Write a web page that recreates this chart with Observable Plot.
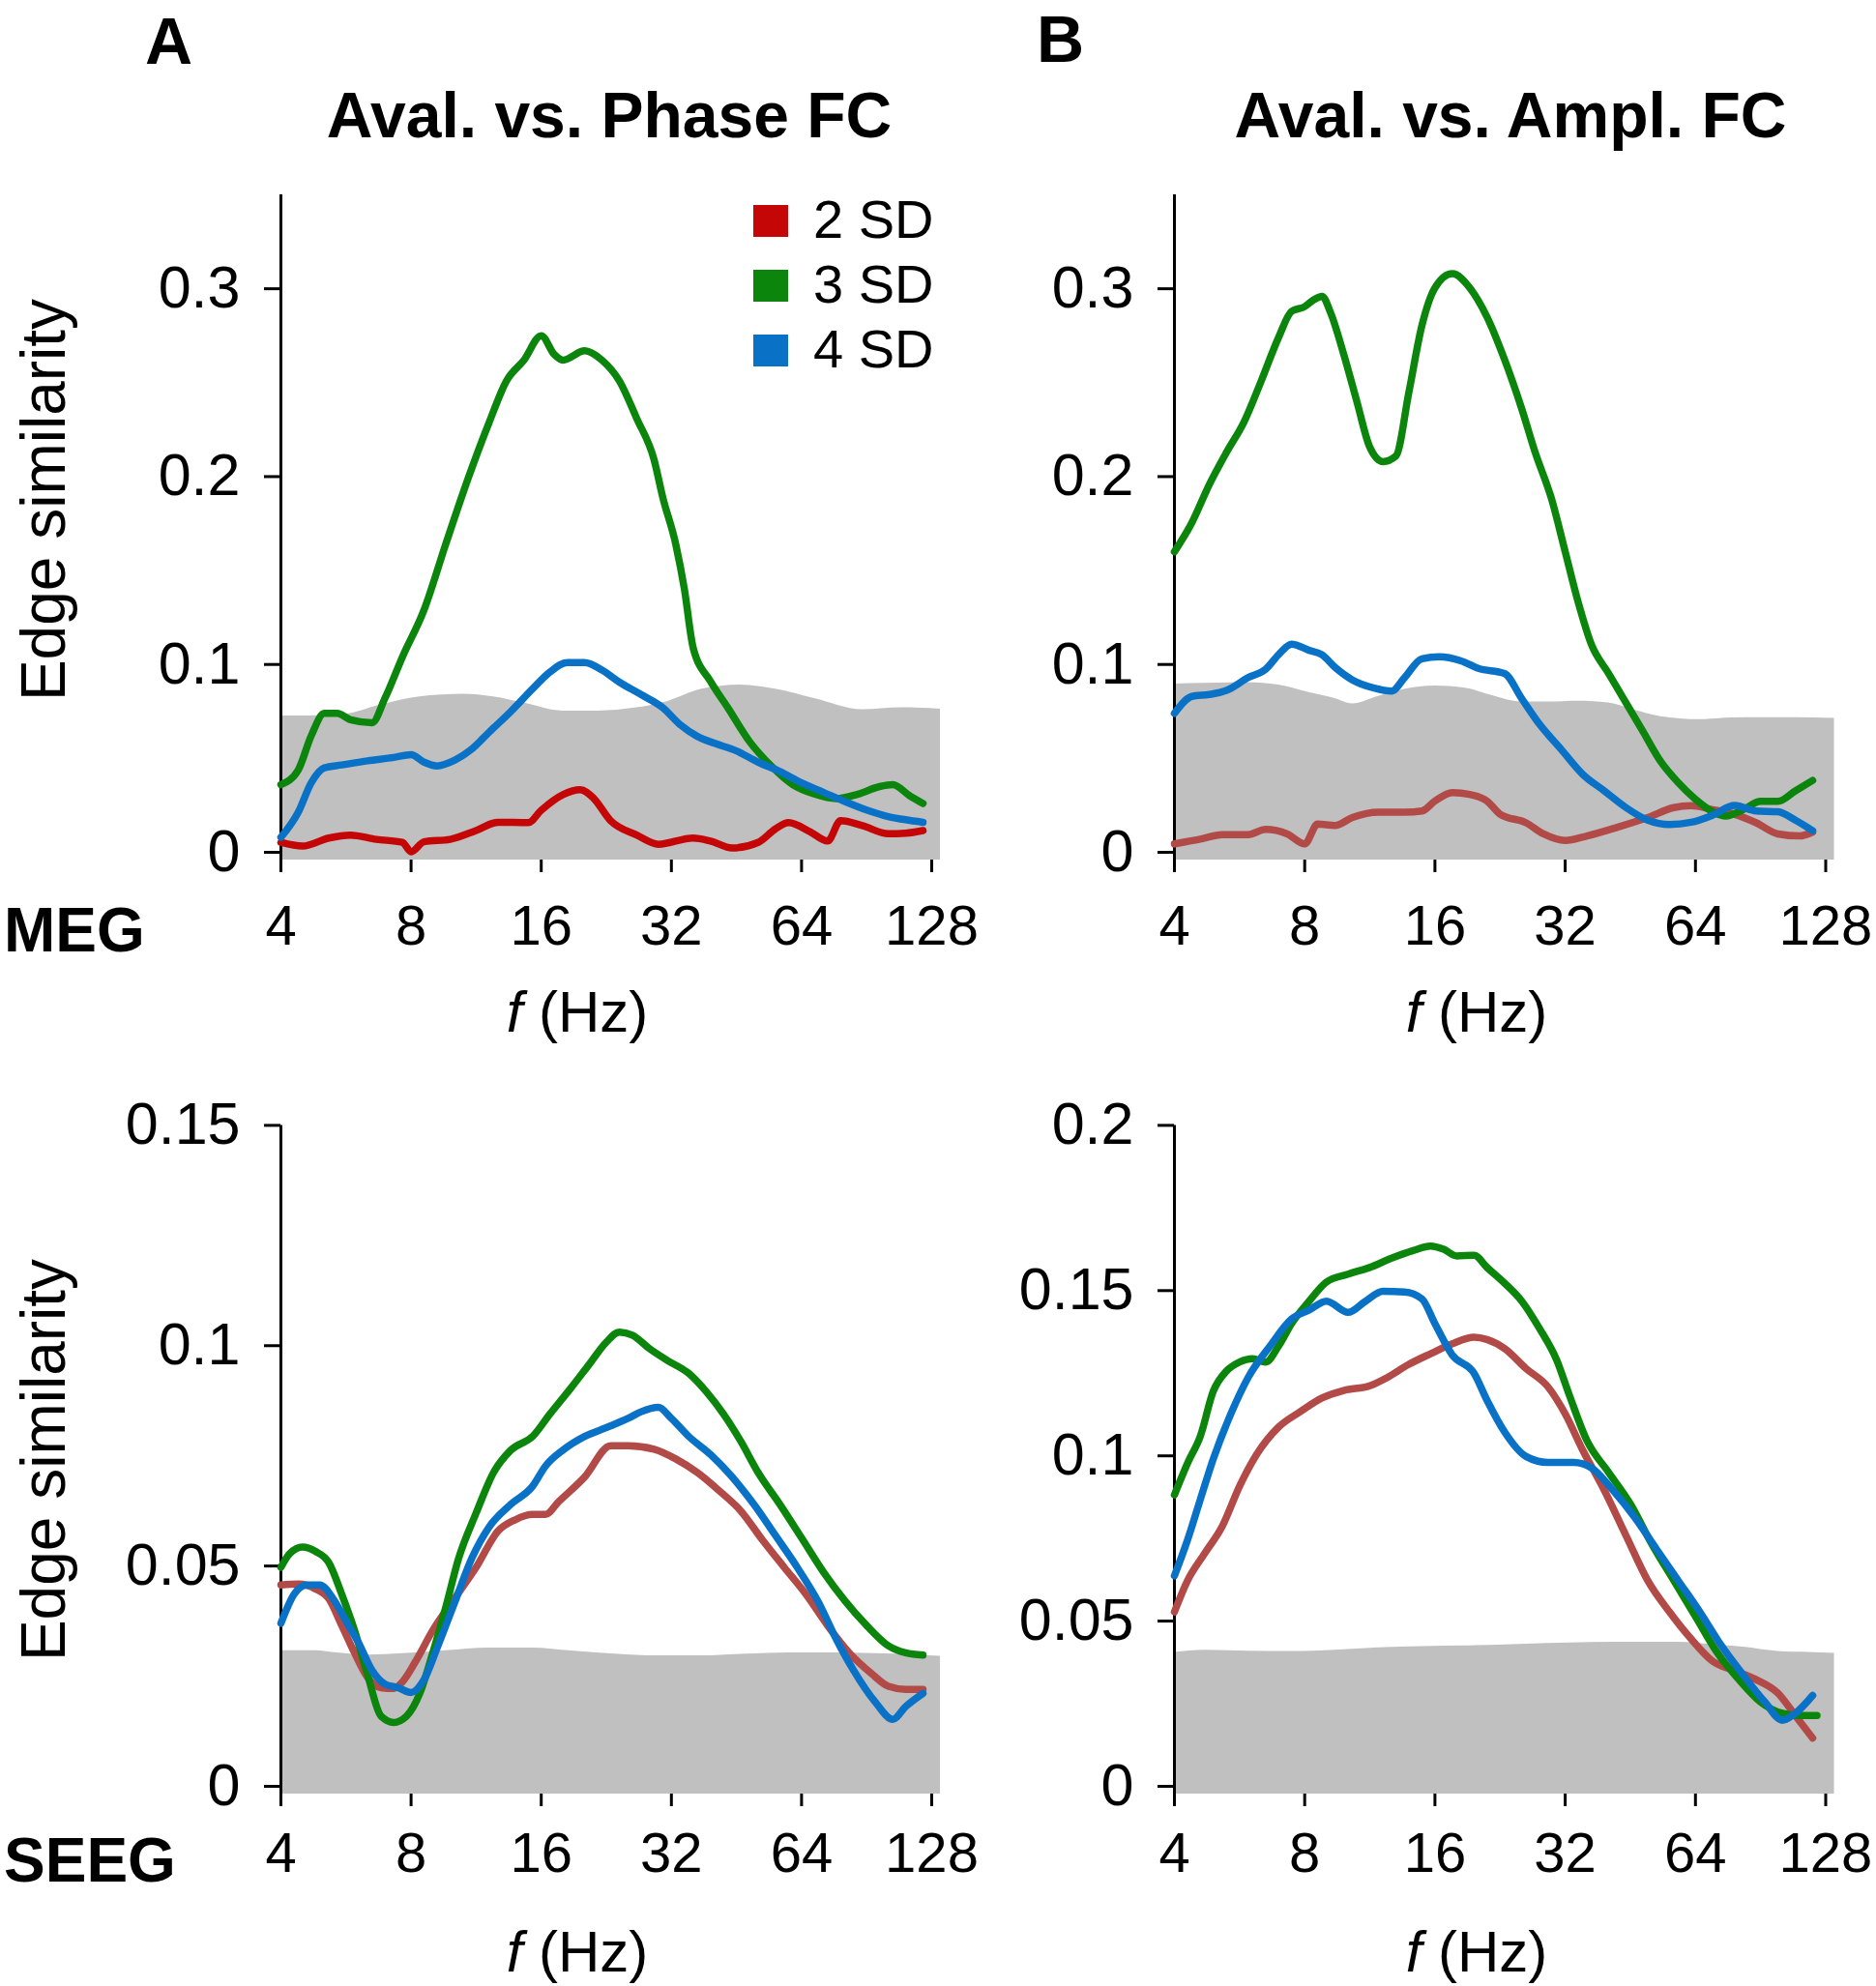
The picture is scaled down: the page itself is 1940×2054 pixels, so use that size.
<!DOCTYPE html>
<html><head><meta charset="utf-8">
<script src="https://cdn.jsdelivr.net/npm/d3@7"></script>
<script src="https://cdn.jsdelivr.net/npm/@observablehq/plot@0.6"></script>
<style>
html,body{margin:0;padding:0;background:#fff;}
#root{position:relative;width:1940px;height:2054px;overflow:hidden;background:#fff;}
</style></head><body><div id="root"></div>
<script>
// ---------- DATA: [frequency (Hz), edge similarity] ----------
const freqTicks = [4, 8, 16, 32, 64, 128];
const seriesLabels = ["2 SD", "3 SD", "4 SD"];
const panelTitles = ["Aval. vs. Phase FC", "Aval. vs. Ampl. FC"];
const panelLetters = ["A", "B"];
const rowLabels = ["MEG", "SEEG"];
const yTicksMEG = [0, 0.1, 0.2, 0.3];
const yTicksSEEGPhase = [0, 0.05, 0.1, 0.15];
const yTicksSEEGAmpl = [0, 0.05, 0.1, 0.15, 0.2];

// MEG, Aval. vs. Phase FC
const megPhase2SD = [[4,0.0053],[4.49,0.0033],[5.16,0.0076],[5.79,0.0092],[6.65,0.0069],[7.64,0.0053],[8,0.0003],[8.57,0.0056],[9.85,0.0069],[11.31,0.0116],[12.7,0.016],[14.93,0.0158],[16,0.0224],[17.96,0.0307],[19.7,0.0333],[21.11,0.029],[23.16,0.0168],[26.6,0.0092],[29.86,0.0043],[35.92,0.0076],[39.4,0.006],[44.22,0.0023],[50.8,0.0053],[55.72,0.0125],[59.71,0.0158],[67.03,0.0109],[73.52,0.006],[78.79,0.0168],[88.44,0.0142],[101.6,0.0099],[111.4,0.0102],[122.2,0.0116]];
const megPhase3SD = [[4,0.036],[4.39,0.044],[4.7,0.062],[5.04,0.074],[5.4,0.074],[5.79,0.0706],[6.5,0.069],[6.96,0.082],[7.64,0.104],[8.57,0.129],[9.62,0.164],[10.8,0.198],[12.13,0.229],[13.3,0.251],[14.59,0.262],[16,0.275],[17.15,0.265],[17.96,0.262],[20.16,0.267],[22.11,0.262],[24.25,0.251],[26.6,0.231],[29.18,0.209],[30.56,0.189],[32.75,0.164],[34.3,0.14],[35.92,0.109],[39.4,0.091],[43.21,0.077],[48.5,0.059],[54.44,0.046],[61.11,0.036],[68.59,0.031],[76.99,0.0286],[86.42,0.031],[97.01,0.035],[104,0.036],[114,0.03],[122.2,0.026]];
const megPhase4SD = [[4,0.008],[4.39,0.0215],[4.7,0.037],[5.04,0.045],[5.53,0.0465],[6.35,0.0487],[7.29,0.0505],[8,0.052],[8.57,0.048],[9.19,0.046],[10.08,0.049],[11.06,0.055],[12.13,0.064],[13.61,0.075],[15.28,0.087],[16.76,0.096],[18.38,0.101],[20.16,0.101],[22.11,0.097],[24.25,0.0906],[27.22,0.084],[30.56,0.077],[33.51,0.068],[36.76,0.0617],[40.32,0.058],[45.25,0.054],[50.8,0.048],[57.02,0.043],[64,0.037],[71.84,0.032],[80.63,0.027],[90.51,0.0225],[101.6,0.019],[114,0.017],[122.2,0.016]];
const megPhaseNull = [[4,0.0726],[4.59,0.0726],[5.66,0.0736],[6.81,0.0785],[8.38,0.0828],[10.56,0.0842],[12.41,0.0828],[14.59,0.0795],[17.96,0.0752],[21.61,0.0752],[26.6,0.0769],[31.27,0.0802],[37.62,0.0868],[46.31,0.0891],[55.72,0.0868],[68.59,0.0818],[88.44,0.0759],[108.9,0.0769],[134.1,0.0762]];

// MEG, Aval. vs. Ampl. FC
const megAmpl2SD = [[4,0.0045],[4.59,0.007],[5.16,0.0094],[5.92,0.0094],[6.5,0.0122],[7.29,0.0098],[8,0.0045],[8.57,0.015],[9.4,0.0143],[10.31,0.0185],[11.85,0.0213],[13.61,0.0213],[14.93,0.022],[16,0.0273],[17.55,0.0318],[19.25,0.0308],[21.11,0.0273],[22.63,0.0203],[25.99,0.0157],[28.51,0.0098],[32,0.0063],[35.92,0.0087],[42.22,0.0133],[49.64,0.0185],[57.02,0.0238],[62.54,0.0248],[70.2,0.0227],[78.79,0.0203],[88.44,0.0157],[99.27,0.0098],[111.4,0.0087],[119.4,0.0108]];
const megAmpl3SD = [[4,0.16],[4.39,0.1755],[4.81,0.1955],[5.28,0.213],[5.79,0.229],[6.35,0.251],[6.96,0.274],[7.46,0.288],[8,0.2905],[8.38,0.294],[8.77,0.296],[9.19,0.287],[9.85,0.265],[10.56,0.24],[11.31,0.2157],[12.13,0.208],[13,0.211],[13.93,0.245],[14.93,0.2805],[16,0.3005],[17.55,0.308],[19.25,0.3005],[21.11,0.285],[23.16,0.2625],[25.4,0.236],[27.22,0.2135],[29.86,0.187],[32,0.16],[34.3,0.133],[36.76,0.1108],[40.32,0.0952],[44.22,0.0796],[48.5,0.064],[53.2,0.0483],[58.35,0.0372],[64,0.0283],[70.2,0.0216],[75.23,0.0193],[82.52,0.0227],[90.51,0.0271],[99.27,0.0271],[108.9,0.0327],[119.4,0.0383]];
const megAmpl4SD = [[4,0.074],[4.39,0.083],[4.81,0.084],[5.28,0.0862],[5.92,0.093],[6.5,0.0975],[6.96,0.1052],[7.46,0.1108],[8.19,0.1075],[8.77,0.1052],[9.4,0.0985],[10.31,0.0918],[11.58,0.0874],[12.7,0.0858],[13.61,0.093],[14.93,0.103],[16.37,0.1041],[18.38,0.1019],[20.16,0.0979],[23.16,0.0952],[25.4,0.0818],[27.86,0.0684],[31.27,0.055],[35.1,0.0416],[39.4,0.0327],[44.22,0.0238],[49.64,0.0171],[55.72,0.0148],[62.54,0.016],[70.2,0.0198],[78.79,0.0249],[88.44,0.022],[99.27,0.0216],[108.9,0.0171],[119.4,0.0115]];
const megAmplNull = [[4,0.0896],[4.7,0.09],[5.92,0.0903],[6.96,0.089],[8.19,0.085],[9.4,0.0818],[10.31,0.079],[11.85,0.083],[13.61,0.0867],[16,0.0885],[18.81,0.0874],[21.61,0.0835],[25.4,0.08],[29.18,0.08],[34.3,0.0804],[40.32,0.0795],[46.31,0.0756],[53.2,0.0722],[65.5,0.0706],[76.99,0.0715],[92.62,0.0717],[108.9,0.0717],[134.1,0.0713]];

// SEEG, Aval. vs. Phase FC
const seegPhase2SD = [[4,0.0457],[4.39,0.0459],[4.81,0.0448],[5.16,0.0426],[5.53,0.0365],[5.92,0.0303],[6.35,0.0247],[6.81,0.0224],[7.29,0.0222],[7.64,0.0237],[8.19,0.0283],[8.98,0.0354],[10.08,0.0426],[11.31,0.0497],[12.7,0.0579],[13.93,0.0605],[15.28,0.0617],[16.37,0.0617],[17.55,0.0646],[20.16,0.0702],[23.16,0.0773],[25.4,0.0773],[29.18,0.0765],[32.75,0.0743],[36.76,0.0712],[41.26,0.0671],[46.31,0.0625],[51.98,0.0559],[58.35,0.0497],[65.5,0.0436],[73.52,0.0365],[82.52,0.0303],[92.62,0.0257],[101.6,0.0227],[111.4,0.022],[122.2,0.022]];
const seegPhase3SD = [[4,0.0497],[4.19,0.0528],[4.49,0.0543],[4.81,0.0533],[5.16,0.0508],[5.53,0.0436],[5.92,0.0354],[6.35,0.0252],[6.81,0.016],[7.29,0.0145],[7.82,0.016],[8.38,0.0211],[8.98,0.0303],[9.62,0.0406],[10.31,0.0518],[11.31,0.062],[12.41,0.0712],[13.61,0.0763],[15.28,0.0794],[16.76,0.0845],[18.81,0.0906],[20.63,0.0957],[22.63,0.1008],[24.25,0.1031],[25.99,0.1024],[28.51,0.0993],[31.27,0.0967],[35.1,0.0937],[38.5,0.0896],[42.22,0.0845],[46.31,0.0783],[50.8,0.0712],[57.02,0.064],[64,0.0564],[71.84,0.0487],[80.63,0.0421],[90.51,0.0365],[101.6,0.0319],[111.4,0.0303],[122.2,0.0298]];
const seegPhase4SD = [[4,0.037],[4.29,0.0436],[4.59,0.0457],[4.92,0.0457],[5.28,0.0426],[5.66,0.0375],[6.06,0.0324],[6.5,0.0263],[6.96,0.0232],[7.46,0.0224],[8,0.0213],[8.57,0.0242],[9.19,0.0314],[10.08,0.0416],[11.06,0.0518],[12.13,0.0589],[13.61,0.064],[15.28,0.0681],[16.37,0.0727],[17.96,0.0763],[20.16,0.0794],[22.63,0.0814],[25.4,0.0835],[27.22,0.085],[29.86,0.086],[32,0.0835],[35.1,0.0794],[39.4,0.0753],[44.22,0.0702],[49.64,0.064],[55.72,0.0569],[62.54,0.0497],[70.2,0.0416],[76.99,0.0334],[84.45,0.0263],[94.79,0.0191],[104,0.0152],[111.4,0.0181],[122.2,0.0211]];
const seegPhaseNull = [[4,0.0308],[4.81,0.0308],[5.4,0.0303],[6.35,0.0298],[7.64,0.0301],[9.62,0.0308],[12.13,0.0314],[15.28,0.0314],[18.81,0.0307],[23.7,0.03],[29.86,0.0296],[37.62,0.0296],[47.39,0.03],[59.71,0.0303],[75.23,0.0303],[94.79,0.0301],[119.4,0.0298],[134.1,0.0295]];

// SEEG, Aval. vs. Ampl. FC
const seegAmpl2SD = [[4,0.0528],[4.29,0.0623],[4.7,0.0705],[5.16,0.0787],[5.66,0.0909],[6.2,0.1005],[6.96,0.1087],[7.82,0.1134],[8.77,0.1175],[9.85,0.1198],[11.31,0.1212],[12.41,0.1237],[13.93,0.1277],[15.63,0.1309],[17.55,0.1339],[19.7,0.1359],[21.11,0.1352],[23.16,0.1325],[25.99,0.1264],[29.18,0.1209],[32,0.1127],[35.1,0.1018],[39.4,0.0896],[44.22,0.0759],[49.64,0.0623],[55.72,0.0528],[62.54,0.0446],[70.2,0.0378],[78.79,0.035],[88.44,0.0323],[99.27,0.0282],[108.9,0.0214],[119.4,0.0146]];
const seegAmpl3SD = [[4,0.0882],[4.29,0.0978],[4.59,0.1059],[4.92,0.1196],[5.28,0.1257],[5.66,0.1284],[6.06,0.1294],[6.5,0.1284],[6.96,0.1332],[7.46,0.14],[8.19,0.1468],[8.98,0.1526],[10.08,0.155],[11.31,0.157],[12.7,0.1598],[14.25,0.1621],[15.63,0.1635],[16.76,0.1625],[17.96,0.1605],[19.7,0.1607],[21.11,0.157],[23.16,0.1523],[25.4,0.1468],[27.86,0.1387],[30.56,0.1291],[32.75,0.1182],[35.92,0.1046],[40.32,0.095],[45.25,0.0855],[50.8,0.0732],[57.02,0.0623],[64,0.0514],[71.84,0.0405],[80.63,0.0323],[90.51,0.0255],[101.6,0.0221],[111.4,0.0214],[122.2,0.0214]];
const seegAmpl4SD = [[4,0.0637],[4.29,0.0746],[4.59,0.0868],[4.92,0.0991],[5.4,0.1127],[5.92,0.1237],[6.65,0.1332],[7.46,0.1414],[8.19,0.1441],[8.98,0.1468],[10.08,0.1434],[11.06,0.1468],[12.13,0.1498],[13.61,0.1496],[14.93,0.1475],[16,0.14],[17.55,0.1305],[19.7,0.125],[21.11,0.1168],[23.16,0.1073],[25.99,0.0998],[29.18,0.098],[33.51,0.098],[36.76,0.0964],[41.26,0.0896],[46.31,0.0814],[51.98,0.0718],[58.35,0.0623],[65.5,0.0528],[73.52,0.0425],[82.52,0.0337],[92.62,0.0255],[101.6,0.02],[108.9,0.0221],[119.4,0.0275]];
const seegAmplNull = [[4,0.0405],[4.7,0.0412],[5.92,0.0409],[7.46,0.0408],[9.4,0.0412],[11.85,0.0419],[14.93,0.0423],[18.81,0.0425],[23.16,0.0428],[29.18,0.0432],[36.76,0.0435],[46.31,0.0436],[58.35,0.0436],[70.2,0.0429],[82.52,0.0421],[99.27,0.0408],[116.7,0.0405],[134.1,0.0402]];

// ---------- STYLE ----------
const FONT = "'Liberation Sans', Arial, Helvetica, sans-serif";
const GREEN = "#0c850c", BLUE = "#0a72c6", GRAY = "#c0c0c0";
const RED_BRIGHT = "#c40606", RED_MUTED = "#b24a48";
const LINE_W = 7.5;
const XTICK_FONT = 58, YTICK_FONT = 61;

const root = document.getElementById("root");

function panel(cfg) {
  const {left, top, width, height, xLeft, xRight, yTopPx, yZeroPx, yMax, yTicks, data, reds, xPad} = cfg;
  const pxPerUnit = (yZeroPx - yTopPx) / yMax;
  const yMin = -8 / pxPerUnit;            // frame bottom sits 8px below zero
  const bottomPx = yZeroPx + 8;
  const xy = {x: d => d[0], y: d => d[1]};
  const svg = Plot.plot({
    width, height,
    marginLeft: xLeft, marginRight: width - xRight,
    marginTop: yTopPx, marginBottom: height - bottomPx,
    style: {background: "transparent", fontFamily: FONT, fontSize: XTICK_FONT + "px", color: "#000", overflow: "visible", maxWidth: "none"},
    x: {type: "log", base: 2, domain: [4, 134]},
    y: {domain: [yMin, yMax]},
    marks: [
      Plot.areaY(data.null, {x: d => d[0], y1: yMin, y2: d => d[1], fill: GRAY, curve: "monotone-x"}),
      Plot.ruleX([4], {y1: yMin, y2: yMax, stroke: "#000", strokeWidth: 3}),
      Plot.axisY({ticks: yTicks, tickSize: 17, tickPadding: 25, strokeWidth: 3, fontSize: YTICK_FONT, label: null, tickFormat: d => String(d)}),
      Plot.axisX({ticks: freqTicks, tickSize: 13, tickPadding: xPad, strokeWidth: 3, fontSize: XTICK_FONT, label: null, tickFormat: d => String(d)}),
      Plot.line(data.s2, {...xy, stroke: reds, strokeWidth: LINE_W, curve: "monotone-x"}),
      Plot.line(data.s3, {...xy, stroke: GREEN, strokeWidth: LINE_W, curve: "monotone-x"}),
      Plot.line(data.s4, {...xy, stroke: BLUE, strokeWidth: LINE_W, curve: "monotone-x"})
    ]
  });
  svg.style.position = "absolute";
  svg.style.left = left + "px";
  svg.style.top = top + "px";
  root.appendChild(svg);
}

// top row: svg top 160; 0.35 at y=201, 0 at y=881 (absolute)
panel({left: 0, top: 160, width: 1000, height: 930, xLeft: 290, xRight: 971.9, yTopPx: 41, yZeroPx: 721, yMax: 0.35, yTicks: yTicksMEG, xPad: 33, reds: RED_BRIGHT,
  data: {s2: megPhase2SD, s3: megPhase3SD, s4: megPhase4SD, null: megPhaseNull}});
panel({left: 1000, top: 160, width: 940, height: 930, xLeft: 214, xRight: 896.4, yTopPx: 41, yZeroPx: 721, yMax: 0.35, yTicks: yTicksMEG, xPad: 33, reds: RED_MUTED,
  data: {s2: megAmpl2SD, s3: megAmpl3SD, s4: megAmpl4SD, null: megAmplNull}});
// bottom row: svg top 1110; top tick at 1163.4, 0 at 1847
panel({left: 0, top: 1110, width: 1000, height: 944, xLeft: 290, xRight: 971.9, yTopPx: 53.4, yZeroPx: 737, yMax: 0.15, yTicks: yTicksSEEGPhase, xPad: 26, reds: RED_MUTED,
  data: {s2: seegPhase2SD, s3: seegPhase3SD, s4: seegPhase4SD, null: seegPhaseNull}});
panel({left: 1000, top: 1110, width: 940, height: 944, xLeft: 214, xRight: 896.4, yTopPx: 53.4, yZeroPx: 737, yMax: 0.2, yTicks: yTicksSEEGAmpl, xPad: 26, reds: RED_MUTED,
  data: {s2: seegAmpl2SD, s3: seegAmpl3SD, s4: seegAmpl4SD, null: seegAmplNull}});

// ---------- TEXT OVERLAY ----------
const ov = d3.select(root).append("svg")
  .attr("width", 1940).attr("height", 2054)
  .style("position", "absolute").style("left", "0px").style("top", "0px")
  .style("font-family", FONT).style("overflow", "visible");

// panel letters
ov.append("text").attr("x", 150).attr("y", 66).attr("font-size", 68).attr("font-weight", "bold").text(panelLetters[0]);
ov.append("text").attr("x", 1072).attr("y", 64).attr("font-size", 68).attr("font-weight", "bold").text(panelLetters[1]);
// titles
ov.append("text").attr("x", 630).attr("y", 142).attr("font-size", 66).attr("font-weight", "bold").attr("text-anchor", "middle").text(panelTitles[0]);
ov.append("text").attr("x", 1562).attr("y", 142).attr("font-size", 66).attr("font-weight", "bold").attr("text-anchor", "middle").text(panelTitles[1]);
// row labels
ov.append("text").attr("x", 4).attr("y", 984).attr("font-size", 64).attr("font-weight", "bold").text(rowLabels[0]);
ov.append("text").attr("x", 4).attr("y", 1946).attr("font-size", 64).attr("font-weight", "bold").text(rowLabels[1]);
// y labels
for (const cy of [517, 1510]) {
  ov.append("text").attr("transform", `translate(67,${cy}) rotate(-90)`).attr("font-size", 64)
    .attr("text-anchor", "middle").text("Edge similarity");
}
// x labels
for (const [cx, by] of [[597, 1067], [1527, 1067], [597, 2039], [1527, 2039]]) {
  const t = ov.append("text").attr("x", cx).attr("y", by).attr("font-size", 60).attr("text-anchor", "middle");
  t.append("tspan").attr("font-style", "italic").text("f");
  t.append("tspan").text(" (Hz)");
}
// legend
const legendColors = [RED_BRIGHT, GREEN, BLUE];
seriesLabels.forEach((lab, i) => {
  const y0 = 212 + i * 67;
  ov.append("rect").attr("x", 779).attr("y", y0).attr("width", 36).attr("height", 33).attr("fill", legendColors[i]);
  ov.append("text").attr("x", 841).attr("y", y0 + 34).attr("font-size", 56).text(lab);
});
</script>
</body></html>
